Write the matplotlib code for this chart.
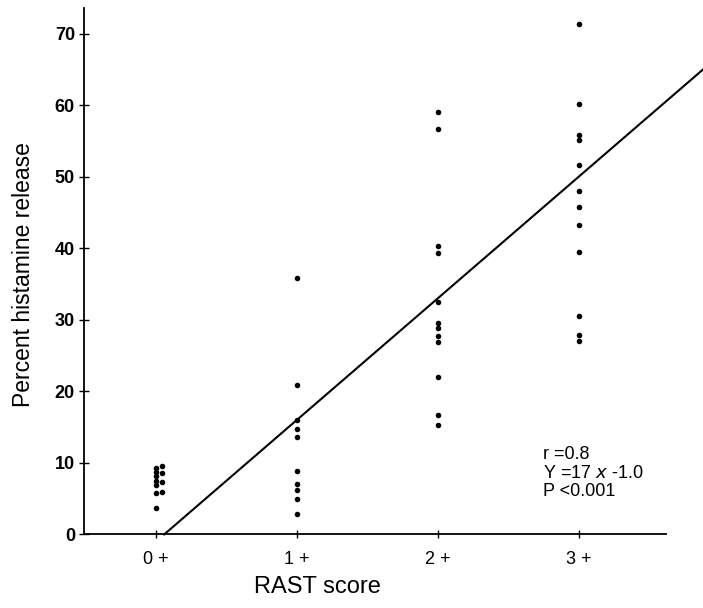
import numpy as np
import matplotlib
matplotlib.use("Agg")
import matplotlib.pyplot as plt

plt.rcParams['font.family'] = ['Liberation Sans', 'DejaVu Sans']

# RAST score categories and percent histamine release
score_labels = ["0 +", "1 +", "2 +", "3 +"]
score_pos = [0, 1, 2, 3]

rast0_left = [9.3, 8.7, 8.1, 7.5, 6.9, 5.8, 3.7]
rast0_right = [9.6, 8.6, 7.3, 6.0]
rast1 = [35.9, 20.9, 16.0, 14.8, 13.6, 8.9, 7.1, 6.2, 4.9, 2.8]
rast2 = [59.1, 56.7, 40.3, 39.3, 32.5, 29.5, 28.8, 27.7, 26.9, 22.0, 16.7, 15.3]
rast3 = [71.3, 60.1, 55.9, 55.1, 51.6, 48.0, 45.7, 43.2, 39.5, 30.5, 27.9, 27.1]

slope, intercept = 17.0, -1.0
stats_text = "r =0.8\nY =17 $x$ -1.0\nP <0.001"

fig = plt.figure(figsize=(7.03, 6.08), dpi=100)
ax = fig.add_axes([0.1195, 0.121, 0.828, 0.866])

groups = [(0.0, rast0_left), (0.045, rast0_right), (1.0, rast1), (2.0, rast2), (3.0, rast3)]
for xv, ys in groups:
    ax.scatter(np.full(len(ys), xv), ys, s=16, color='black', zorder=3, linewidths=0)

# regression line, runs past the axes to the figure edge
x0 = -intercept / slope
xs = np.array([x0, 3.89])
ax.plot(xs, slope * xs + intercept, color='black', lw=1.5, clip_on=False)

ax.set_xlim(-0.51, 3.62)
ax.set_ylim(0, 73.6)
ax.set_xticks(score_pos)
ax.set_xticklabels(score_labels, fontsize=13)
ax.set_yticks(range(0, 71, 10))
ax.set_yticklabels([str(v) for v in range(0, 71, 10)], fontsize=13, fontweight='bold')

for s in ['top', 'right']:
    ax.spines[s].set_visible(False)
for s in ['left', 'bottom']:
    ax.spines[s].set_linewidth(1.3)
ax.tick_params(axis='x', direction='inout', length=6, width=1, pad=9)
ax.tick_params(axis='y', direction='inout', length=7, width=1, pad=3)

ax.text(2.745, 12.3, stats_text, fontsize=13, va='top', ha='left', linespacing=1.1)

fig.text(0.452, 0.035, "RAST score", fontsize=17, ha='center', va='center')
fig.text(0.033, 0.548, "Percent histamine release", fontsize=16.5, rotation=90,
         ha='center', va='center')

fig.savefig("out.png", dpi=100)
